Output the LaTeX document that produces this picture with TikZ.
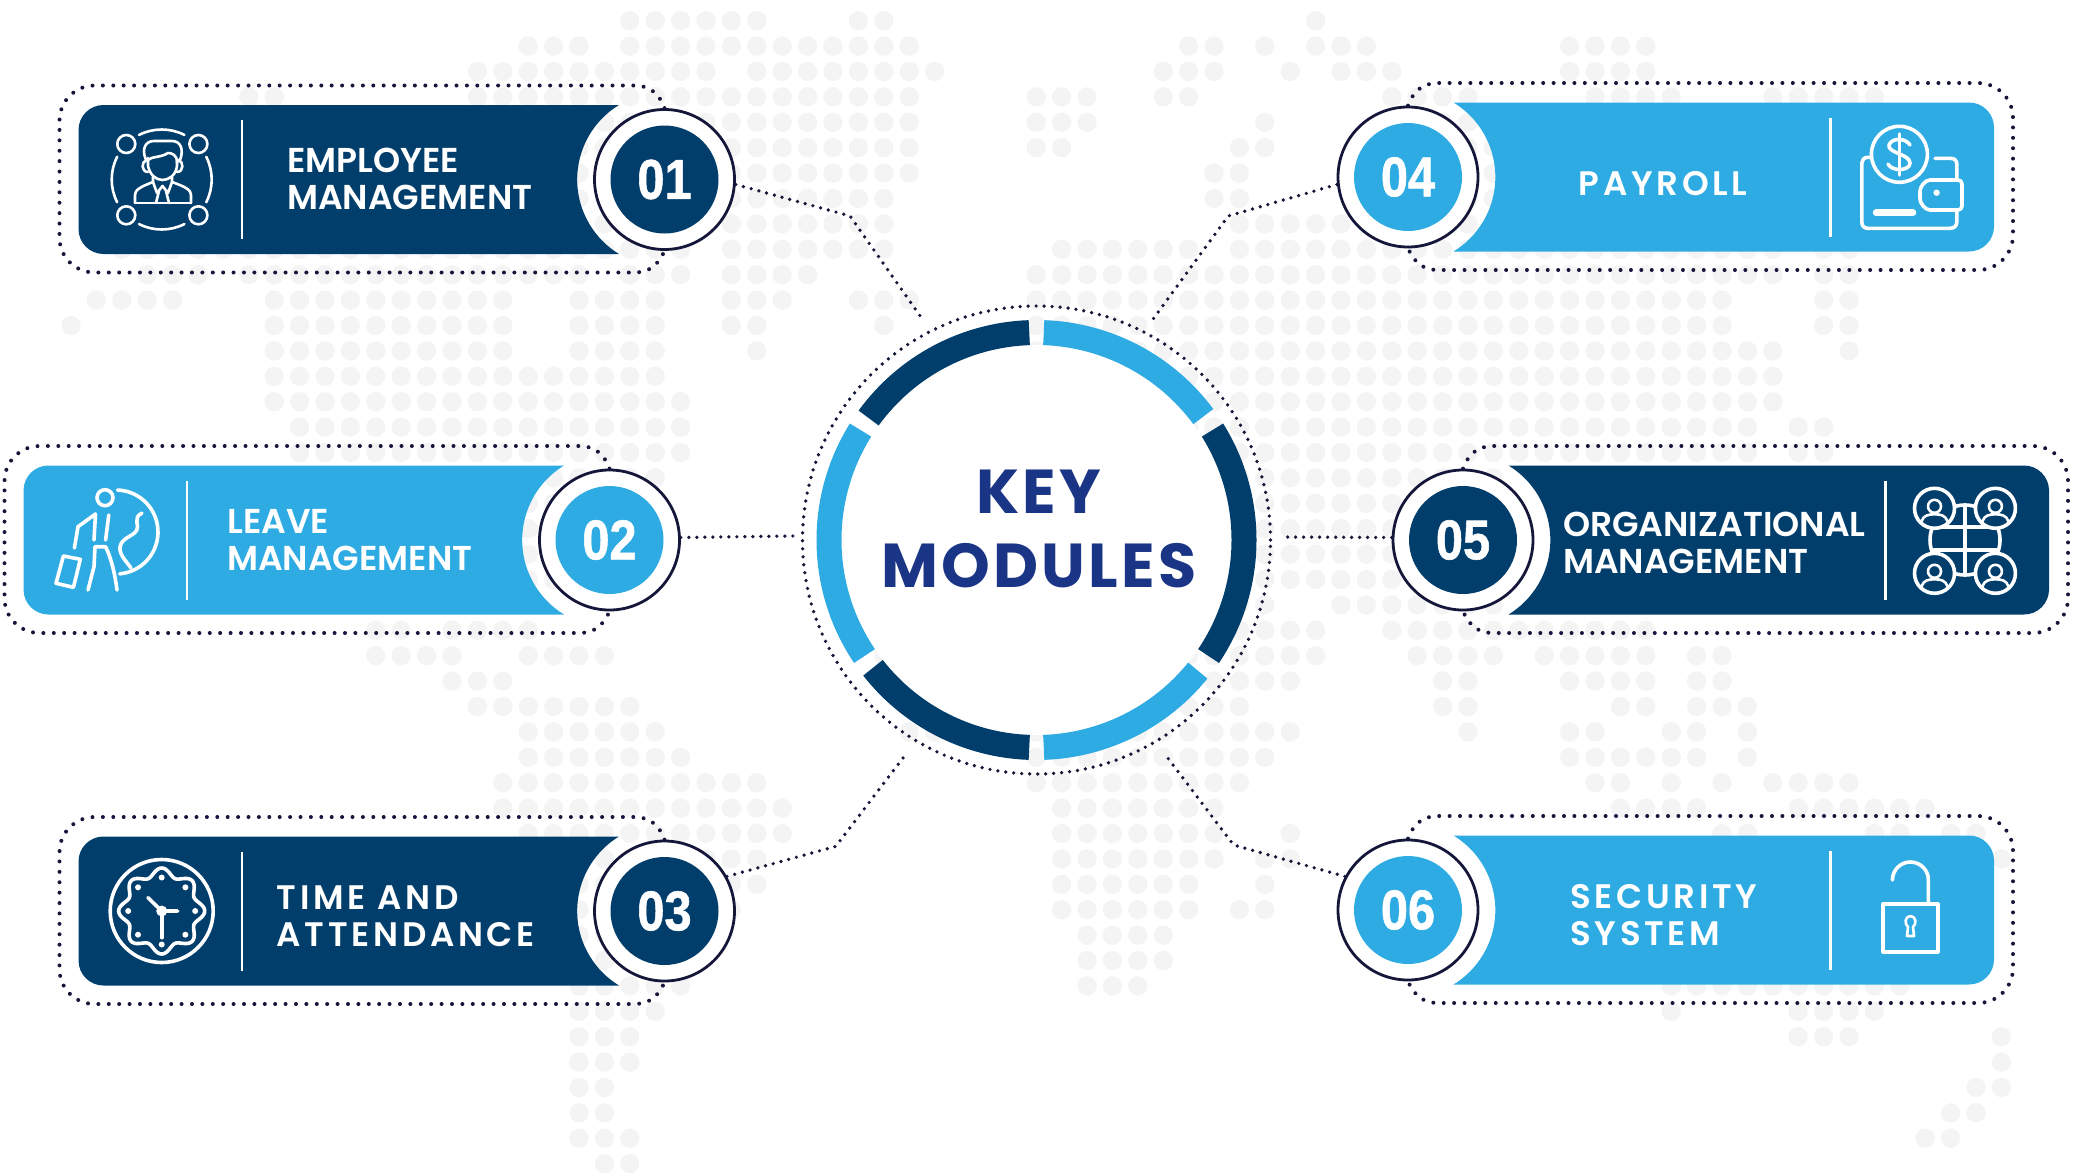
\documentclass[tikz,border=0pt]{standalone}
\usepackage{fontspec}
\setmainfont{Poppins}
\newfontfamily\titlefont[LetterSpace=5]{Poppins Bold}
\newfontfamily\labelfont{Poppins SemiBold}
\newfontfamily\widefont[LetterSpace=11]{Poppins SemiBold}
\newfontfamily\numfont[FakeStretch=0.87,FakeBold=1]{Liberation Sans}
\definecolor{navy}{HTML}{023E6C}
\definecolor{sky}{HTML}{2EABE3}
\definecolor{titleblue}{HTML}{1A3586}
\definecolor{inkdot}{HTML}{14163A}
\definecolor{mapdot}{HTML}{F4F4F4}
\tikzset{
  panelrule/.style={white,line width=2.5pt},
  panellabel/.style={white,align=left,inner sep=0pt,anchor=base west,font=\labelfont\fontsize{34.5}{37}\selectfont},
  panelwide/.style={panellabel,font=\widefont\fontsize{34}{37}\selectfont},
  outlinedots/.style={inkdot,line width=4pt,line cap=round,dash pattern=on 0pt off 10.4pt},
  linkdots/.style={inkdot,line width=3.7pt,line cap=round,dash pattern=on 0pt off 8pt},
  badgering/.style={circle,draw=inkdot,fill=white,line width=2.8pt,minimum size=140pt,inner sep=0pt},
  badgecore/.style={circle,minimum size=108pt,inner sep=0pt,white,font=\numfont\bfseries\fontsize{56}{56}\selectfont},
  ringseg/.style={line width=25pt},
  iconline/.style={white,line width=3.6pt,line cap=round,line join=round},
  iconthin/.style={white,line width=2.6pt,line cap=round,line join=round}
}
\begin{document}
\begin{tikzpicture}[x=1pt,y=1pt,yscale=-1]
\useasboundingbox (0,0) rectangle (2087,1175);
% world map
\foreach \r/\from/\to in {
  0/22/27,0/31/32,0/49/49,
  1/18/20,1/22/33,1/44/45,1/47/47,1/49/51,1/59/62,
  2/16/25,2/27/34,2/43/45,2/48/48,2/50/52,2/59/62,
  3/7/8,3/16/33,3/38/40,3/43/44,3/52/55,3/60/63,3/67/71,
  4/16/33,4/38/40,4/47/47,4/53/56,
  5/16/33,5/38/39,5/46/47,5/53/56,
  6/16/33,6/45/46,6/53/56,
  7/16/32,7/45/46,7/53/56,
  8/16/32,8/46/56,
  9/2/24,9/26/32,9/39/44,9/46/67,9/69/70,
  10/3/5,10/7/20,10/22/24,10/26/29,10/38/67,10/69/70,
  11/1/4,11/8/17,11/20/23,11/26/28,11/31/33,11/38/65,11/69/70,
  12/0/0,12/8/17,12/20/23,12/26/27,12/32/32,12/38/65,12/69/70,
  13/8/17,13/20/23,13/27/27,13/38/67,13/70/70,
  14/8/23,14/38/67,
  15/8/24,15/38/67,
  16/9/24,16/38/66,16/68/69,
  17/9/24,17/38/66,17/68/69,
  18/9/23,18/38/56,
  19/15/21,19/38/56,
  20/15/21,20/38/56,
  21/15/21,21/38/56,
  22/15/21,22/38/56,
  23/38/47,23/50/56,
  24/12/13,24/15/18,24/38/49,24/52/62,
  25/12/15,25/18/21,25/32/32,25/38/49,25/53/56,25/58/62,25/64/65,
  26/15/17,26/38/48,26/54/55,26/59/62,26/64/65,
  27/16/22,27/38/46,27/54/55,27/61/62,27/64/66,
  28/18/23,28/33/34,28/38/48,28/55/55,28/59/60,28/63/64,28/66/66,
  29/18/24,29/38/47,29/59/64,29/66/66,
  30/17/27,30/38/46,30/60/61,30/63/63,30/65/65,30/67/70,
  31/17/28,31/39/45,31/61/64,31/68/73,
  32/18/28,32/39/45,32/48/48,32/65/66,32/71/72,32/74/75,
  33/20/27,33/39/45,33/47/48,33/76/76,
  34/20/27,34/39/44,34/47/47,
  35/20/26,35/39/44,35/46/47,
  36/20/25,36/40/43,
  37/20/24,37/40/43,
  38/20/24,38/40/42,38/63/72,
  39/20/23,39/63/63,39/68/71,
  40/20/22,40/68/70,40/76/76,
  41/20/22,41/76/76,
  42/20/21,42/75/76,
  43/20/21,43/74/75,
  44/20/22,44/73/74,
  45/21/22}
  \foreach \c in {\from,...,\to}
    \fill[mapdot] ({71+25.4*\c},{20.7+25.4*\r}) circle (9.7);
% centre ring
\node[circle,draw,inkdot,line width=3.7pt,line cap=round,dash pattern=on 0pt off 8pt,minimum size=468pt,inner sep=0pt] (hub) at (1036.5,540) {};
\fill[white] (hub.center) circle (195);
\foreach \from/\to/\tone in {92/144/navy,148/214/sky,218/268/navy,272/321/sky,326/392/navy,36.5/88/sky}
  \draw[ringseg,\tone] (hub.center) ++(-\from:207.5) arc[start angle=-\from,end angle=-\to,radius=207.5];
\node[align=center,anchor=base,inner sep=0pt,titleblue,font=\titlefont\fontsize{62}{74}\selectfont] (title) at (1039,587) {KEY\\MODULES};
% panels
\foreach \n/\bx/\by/\sd/\tone in {1/664.5/179.5/1/navy,2/609.5/540/1/sky,3/664.5/911/1/navy,4/1408/177/-1/sky,5/1463/540/-1/navy,6/1408/910/-1/sky}{
  \begin{scope}[shift={(\bx,\by)},xscale=\sd]
    \fill[\tone] (-45.5,-74.5) arc[start angle=238.6,end angle=121.4,radius=87.3] -- (-561,74.5) arc[start angle=90,end angle=180,radius=25] -- (-586,-49.5) arc[start angle=180,end angle=270,radius=25] -- cycle;
    \draw[panelrule] (-422.5,-59.5) -- (-422.5,59.5);
    \node[badgering] (badge\n) at (0,0) {};
    \draw[outlinedots] (badge\n.north) .. controls (-5,-85) and (-14,-94) .. (-30,-94) -- (-570,-94) arc[start angle=270,end angle=180,radius=35] -- (-605,58) arc[start angle=180,end angle=90,radius=35] -- (-30,93) .. controls (-15,93) and (-6,85) .. (badge\n.south);
    \node[badgecore,fill=\tone] (num\n) at (0,0) {0\n};
  \end{scope}
}
% links
\coordinate (bend1) at (850,216);
\coordinate (tip1) at (922,318.6);
\coordinate (bend3) at (835.7,846.4);
\coordinate (tip3) at (906,754);
\coordinate (bend4) at (1228.3,216);
\coordinate (tip4) at (1153.5,318.6);
\coordinate (bend6) at (1233.6,845);
\coordinate (tip6) at (1165.5,755);
\coordinate (tip5) at (1282,537);
\draw[linkdots] (badge1.-4) -- (bend1) -- (tip1);
\draw[linkdots] (badge2.2) -- (hub.179);
\draw[linkdots] (badge3.29) -- (bend3) -- (tip3);
\draw[linkdots] (badge4.186) -- (bend4) -- (tip4);
\draw[linkdots] (badge5.178) -- (tip5);
\draw[linkdots] (badge6.152) -- (bend6) -- (tip6);
% labels
\node[panellabel] (lab1) at (287,209) {EMPLOYEE\\MANAGEMENT};
\node[panellabel] (lab2) at (227,570) {LEAVE\\MANAGEMENT};
\node[panelwide] (lab3) at (276.5,946.7) {TIME AND\\ATTENDANCE};
\node[panelwide] (lab4) at (1578.4,195.7) {PAYROLL};
\node[panellabel] (lab5) at (1563,573.3) {ORGANIZATIONAL\\MANAGEMENT};
\node[panelwide] (lab6) at (1570,945.7) {SECURITY\\SYSTEM};
% employee icon
\foreach \ox/\oy in {126.3/144,198.4/144,126.3/215.3,198.4/215.3}
  \draw[iconthin] (\ox,\oy) circle (9);
\foreach \a in {0,90,180,270}
  \draw[iconthin] (161.7,179.5) ++(\a-27:50) arc[start angle=\a-27,end angle=\a+27,radius=50];
\draw[iconthin] (146,160) .. controls (141,148) and (146,141) .. (154,141) -- (172,141) .. controls (181,141) and (184,150) .. (180,160) -- (177,162) .. controls (177,155) and (172,153) .. (168,153) .. controls (160,158) and (152,156) .. (148,160);
\draw[iconthin] (148,158) -- (148,166) .. controls (150,175) and (156,180) .. (162.5,180) .. controls (169,180) and (176,175) .. (177,166) -- (177,160);
\draw[iconthin] (147,160) .. controls (141,161) and (141,172) .. (148,172);
\draw[iconthin] (178,160) .. controls (184,161) and (184,172) .. (177,172);
\draw[iconthin] (135,203) -- (135,195) .. controls (135,190) and (140,187) .. (153,182) -- (153,177);
\draw[iconthin] (191,203) -- (191,195) .. controls (191,190) and (186,187) .. (172,182) -- (172,177);
\draw[iconthin] (135,203) -- (191,203);
\draw[iconthin] (153,182) -- (157,193) -- (162.5,186) -- (168,193) -- (172,182);
\draw[iconthin] (159,191) -- (156,203);
\draw[iconthin] (166,191) -- (169,203);
% traveller icon
\draw[iconline] (105,497.7) circle (8);
\draw[iconline] (116,532) ++(-88:42) arc[start angle=-88,end angle=85,radius=42];
\draw[iconline] (142,513) .. controls (132,518) and (140,526) .. (136.8,530) .. controls (133,537) and (122,537) .. (120,547) .. controls (119,555) and (127,562) .. (131,568);
\draw[iconline] (95.5,514) -- (78,526.7) -- (74.4,548);
\draw[iconline] (95.5,514) -- (94,540);
\draw[iconline] (108.8,515) -- (105.6,540);
\draw[iconline] (88,590) -- (94,566.7) -- (95,546.7) -- (105.6,546.7) .. controls (112,560) and (115,575) .. (117,590);
\draw[iconline] (63.4,556) -- (80.3,559.3) -- (73.5,587.3) -- (56,583.3) -- cycle;
% clock icon
\draw[iconline] (161.7,911) circle (51.5);
\draw[iconline] plot[domain=0:360,samples=145] ({161.7+(39+4*cos(8*\x))*cos(\x)},{911+(39+4*cos(8*\x))*sin(\x)}) -- cycle;
\foreach \a in {0,45,...,315}
  \fill[white] (161.7,911) ++(\a:33.5) circle (3);
\fill[white] (161.7,911) circle (5.5);
\draw[iconline] (148,897.7) -- (161.7,911) -- (177.7,911);
\draw[iconline] (161.7,911) -- (161.7,937.7);
% wallet icon
\draw[iconline] (1899.4,154.3) circle (28);
\draw[iconline] (1910,145) .. controls (1906,138) and (1892,137) .. (1889,145) .. controls (1887,153) and (1910,154) .. (1910,163) .. controls (1910,171) and (1892,172) .. (1888,164);
\draw[iconline] (1899.4,134) -- (1899.4,175);
\draw[iconline] (1871,157.3) -- (1868,157.3) .. controls (1864,157.3) and (1861.8,160) .. (1861.8,163) -- (1861.8,222) .. controls (1861.8,226) and (1864,228.3) .. (1868,228.3) -- (1950,228.3) .. controls (1954,228.3) and (1956.8,226) .. (1956.8,222) -- (1956.8,210);
\draw[iconline] (1935,158.3) -- (1950,158.3) .. controls (1954,158.3) and (1956.8,160) .. (1956.8,164) -- (1956.8,180);
\draw[iconline,rounded corners=4pt] (1962,180) -- (1934,180) .. controls (1925,180) and (1920,187) .. (1920,195) .. controls (1920,203) and (1925,210) .. (1934,210) -- (1962,210) -- cycle;
\fill[white] (1936.6,192.7) circle (3.2);
\draw[white,line width=6.5pt,line cap=round] (1876,212.7) -- (1913,212.7);
% network icon
\draw[iconline] (1965,540) circle (35);
\draw[iconline] (1965,505) -- (1965,575);
\draw[iconline] (1934,526.7) -- (1996,526.7);
\draw[iconline] (1934,550) -- (1996,550);
\foreach \px/\py in {1934.5/508.3,1995.4/508.3,1934.5/573.3,1995.4/573.3}{
  \draw[iconline,fill=navy] (\px,\py) circle (20);
  \draw[iconthin] (\px,\py-2) circle (6.5);
  \draw[iconthin] (\px-13,\py+13) .. controls (\px-11,\py+7) and (\px-6,\py+6) .. (\px,\py+6) .. controls (\px+6,\py+6) and (\px+11,\py+7) .. (\px+13,\py+13);
}
% lock icon
\draw[white,line width=4pt,line join=round] (1883.4,904) rectangle (1937.6,951.7);
\draw[iconline] (1928.4,904) -- (1928.4,880) arc[start angle=0,end angle=-180,radius=18];
\draw[iconthin] (1907,936) -- (1908,927) .. controls (1904,924) and (1905,916) .. (1910.5,916) .. controls (1916,916) and (1917,924) .. (1913,927) -- (1914,936) -- cycle;
\end{tikzpicture}
\end{document}
